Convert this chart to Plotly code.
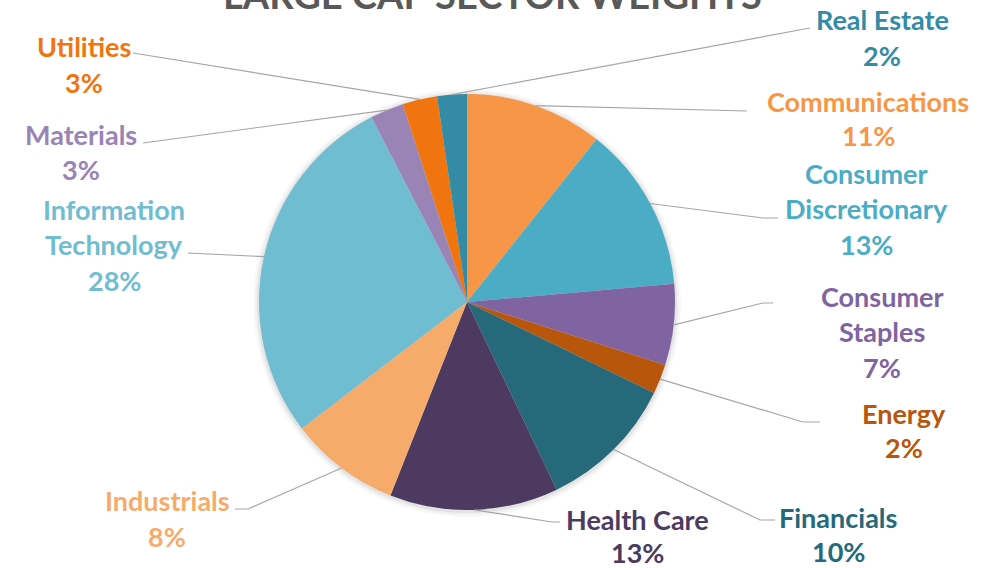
import math
import plotly.graph_objects as go

# ---------------- data ----------------
sectors = ["Communications", "Consumer Discretionary", "Consumer Staples", "Energy",
           "Financials", "Health Care", "Industrials", "Information Technology",
           "Materials", "Utilities", "Real Estate"]
weights = [10.7, 12.9, 6.3, 2.3, 10.7, 13.1, 8.6, 27.8, 2.6, 2.7, 2.3]
pct_labels = ["11%", "13%", "7%", "2%", "10%", "13%", "8%", "28%", "3%", "3%", "2%"]
name_lines = [["Communications"], ["Consumer", "Discretionary"], ["Consumer", "Staples"],
              ["Energy"], ["Financials"], ["Health Care"], ["Industrials"],
              ["Information", "Technology"], ["Materials"], ["Utilities"], ["Real Estate"]]
title_text = "LARGE CAP SECTOR WEIGHTS"

# ---------------- style ----------------
slice_colors = ["#F79646", "#4BACC6", "#8064A2", "#B8560B", "#25697A", "#4C3A60",
                "#F7AB6B", "#70BCD1", "#9A83B5", "#F0750F", "#338BA5"]
text_colors = ["#F79646", "#4BACC6", "#8064A2", "#B8560B", "#25697A", "#4C3A60",
               "#F7AB6B", "#70BCD1", "#9A83B5", "#F0750F", "#338BA5"]

W, H = 998, 568
CX, CY, R = 467, 302, 208
FONT = "Lato"
FS = 27

# label layout: (center x px, first-line center y px, line gap px, leader path points)
label_layout = {
    "Communications": (868, 101, 34.5, [(747, 111)]),
    "Consumer Discretionary": (866, 173, 35.5, [(763, 218), (778, 218)]),
    "Consumer Staples": (882, 296, 35.5, [(763, 303), (773, 303)]),
    "Energy": (904, 413, 35, [(803, 422), (820, 422)]),
    "Financials": (838, 517, 34, [(760, 520), (775, 520)]),
    "Health Care": (637, 519, 33, [(552, 522), (560, 522)]),
    "Industrials": (167, 500, 36, [(248, 509), (235, 509)]),
    "Information Technology": (114, 209, 35.5, [(188, 253)]),
    "Materials": (81, 134, 36, [(143, 143)]),
    "Utilities": (84, 46, 36, [(133, 53)]),
    "Real Estate": (882, 20, 35, [(810, 28)]),
}


def fx(x):
    return x / W


def fy(y):
    return 1 - y / H


fig = go.Figure()

fig.add_trace(go.Pie(
    labels=sectors,
    values=weights,
    sort=False,
    direction="clockwise",
    rotation=0,
    textinfo="none",
    hoverinfo="label+percent",
    marker=dict(colors=slice_colors, line=dict(width=0)),
    domain=dict(x=[fx(CX - R), fx(CX + R)], y=[fy(CY + R), fy(CY - R)]),
    showlegend=False,
))

shapes = []
# soft shadow under the pie
for dr, op in [(6, 0.025), (4, 0.035), (2, 0.05)]:
    shapes.append(dict(type="circle", xref="paper", yref="paper", layer="below",
                       x0=fx(CX - R - dr), x1=fx(CX + R + dr),
                       y0=fy(CY + R + dr + 1), y1=fy(CY - R - dr + 1),
                       line=dict(width=0), fillcolor=f"rgba(0,0,0,{op})"))

annotations = []
total = sum(weights)
cum = 0.0
for name, val, pct, lines, tc in zip(sectors, weights, pct_labels, name_lines, text_colors):
    mid = (cum + val / 2) / total * 2 * math.pi
    cum += val
    sx = CX + R * math.sin(mid)
    sy = CY - R * math.cos(mid)
    lx, ly, gap, pts = label_layout[name]
    path = f"M {fx(sx)},{fy(sy)}"
    for (px, py) in pts:
        path += f" L {fx(px)},{fy(py)}"
    shapes.append(dict(type="path", xref="paper", yref="paper", path=path,
                       line=dict(color="#A6A6A6", width=1.2)))
    for k, t in enumerate(lines + [pct]):
        annotations.append(dict(
            text=f"<b>{t}</b>", x=fx(lx), y=fy(ly + k * gap),
            xref="paper", yref="paper", xanchor="center", yanchor="middle",
            showarrow=False, font=dict(family=FONT, size=FS, color=tc)))

annotations.append(dict(
    text=f"<b>{title_text}</b>", x=fx(492), y=fy(-6), xref="paper", yref="paper",
    xanchor="center", yanchor="middle", showarrow=False,
    font=dict(family=FONT, size=38, color="#595959")))

fig.update_layout(
    width=W, height=H,
    margin=dict(l=0, r=0, t=0, b=0),
    paper_bgcolor="white",
    plot_bgcolor="white",
    shapes=shapes,
    annotations=annotations,
)

fig.write_html("out.html")
